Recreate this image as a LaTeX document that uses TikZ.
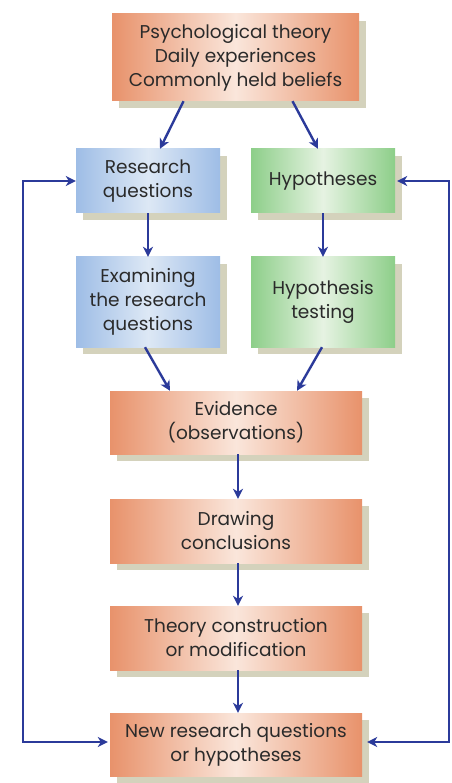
\documentclass[tikz,border=0pt]{standalone}
\usepackage{fontspec}
\setmainfont{Poppins}
\usetikzlibrary{arrows.meta,shadows}
\definecolor{orng}{HTML}{E8926B}
\definecolor{orngl}{HTML}{FAE6DB}
\definecolor{blu}{HTML}{9EBDE6}
\definecolor{blul}{HTML}{DDE8F5}
\definecolor{grn}{HTML}{8DCE89}
\definecolor{grnl}{HTML}{E6F3E2}
\definecolor{shd}{HTML}{D4D2BC}
\definecolor{arrc}{HTML}{2B3A9A}
\definecolor{txt}{HTML}{2A2A2A}
\tikzset{
  >={Stealth[length=10pt,width=10pt,inset=3pt]},
  box/.style={rectangle, align=center, text=txt, inner sep=2pt,
    font=\fontsize{18.5}{24}\selectfont,
    general shadow={fill=shd, shadow xshift=7pt, shadow yshift=-7pt}},
  orangebox/.style={box, left color=orng, right color=orng, middle color=orngl,
    minimum width=252pt, minimum height=64pt},
  bluebox/.style={box, left color=blu, right color=blu, middle color=blul,
    minimum width=144pt, minimum height=64pt},
  greenbox/.style={box, left color=grn, right color=grn, middle color=grnl,
    minimum width=144pt, minimum height=64pt},
  arr/.style={->, arrc, line width=2.4pt}
}
\begin{document}
\begin{tikzpicture}[x=1pt,y=-1pt]
\useasboundingbox (0,0) rectangle (451,783);

\node[orangebox, minimum width=247pt, minimum height=87pt] (src) at (235.5,57.5)
  {Psychological theory\\Daily experiences\\Commonly held beliefs};
\node[bluebox] (rq) at (148,181) {Research\\questions};
\node[greenbox] (hyp) at (323,181) {Hypotheses};
\node[bluebox, minimum height=90pt] (exam) at (148,302) {Examining\\the research\\questions};
\node[greenbox, minimum height=90pt] (test) at (323,302) {Hypothesis\\testing};
\node[orangebox, minimum height=63pt] (evid) at (236,422.5) {Evidence\\(observations)};
\node[orangebox] (concl) at (236,531) {Drawing\\conclusions};
\node[orangebox] (theory) at (236,638) {Theory construction\\or modification};
\node[orangebox, minimum height=63pt] (newq) at (236,744.5) {New research questions\\or hypotheses};

\coordinate (lft) at (23,181);
\coordinate (rgt) at (449,181);

% top box to the two columns
\draw[arr] ([xshift=-52pt]src.south) -- ([xshift=12pt]rq.north);
\draw[arr] ([xshift=57pt]src.south) -- ([xshift=-5pt]hyp.north);
\draw[arr] (rq) -- (exam);
\draw[arr] (hyp) -- (test);
\draw[arr] ([xshift=-3pt]exam.south) -- ([xshift=-66pt]evid.north);
\draw[arr] ([xshift=-1pt]test.south) -- ([xshift=61pt]evid.north);

% centre column
\draw[arr] ([xshift=2pt]evid.south) -- ([xshift=2pt]concl.north);
\draw[arr] ([xshift=2pt]concl.south) -- ([xshift=2pt]theory.north);
\draw[arr] ([xshift=2pt]theory.south) -- ([xshift=2pt]newq.north);

% loops back
\draw[arr, <->] (rq.west) -- (lft) |- ([yshift=2.5pt,xshift=-2pt]newq.west);
\draw[arr, <->] ([xshift=2pt]hyp.east) -- (rgt) |- ([yshift=2.5pt,xshift=5pt]newq.east);
\end{tikzpicture}
\end{document}
